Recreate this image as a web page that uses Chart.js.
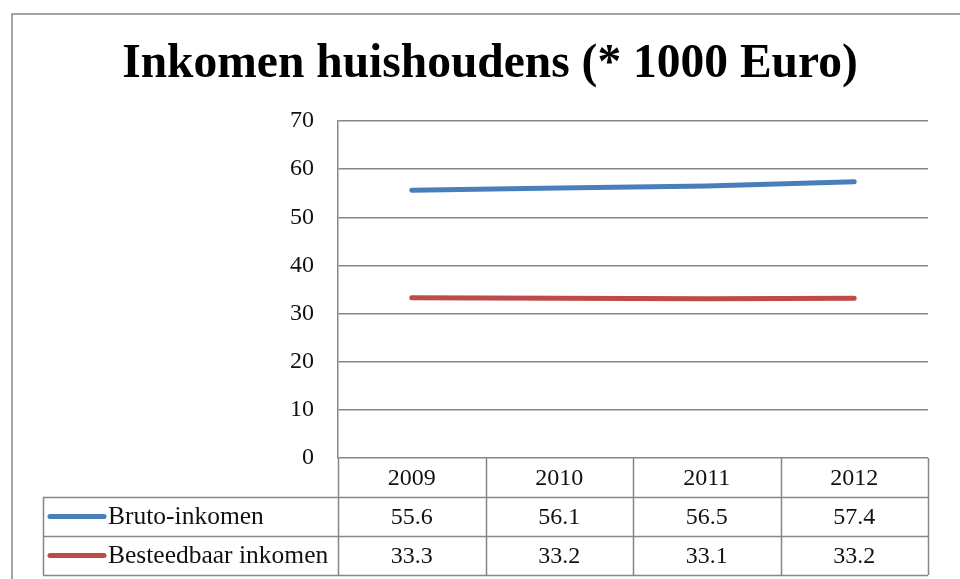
<!DOCTYPE html>
<html>
<head>
<meta charset="utf-8">
<script src="https://cdn.jsdelivr.net/npm/chart.js@4/dist/chart.umd.min.js"></script>
<style>
  html, body { margin: 0; padding: 0; background: #fff; overflow: hidden; }
  #wrap { position: relative; width: 960px; height: 579px; }
</style>
</head>
<body>
<div id="wrap"><canvas id="chart" width="960" height="579"></canvas></div>
<script>
// chart data
const years = ["2009", "2010", "2011", "2012"];
const seriesNames = ["Bruto-inkomen", "Besteedbaar inkomen"];
const brutoValues = [55.6, 56.1, 56.5, 57.4];
const besteedbaarValues = [33.3, 33.2, 33.1, 33.2];
const yTicks = [0, 10, 20, 30, 40, 50, 60, 70];

const blue = "#4a7ebb";
const red = "#be4b48";
const gridGrey = "#868686";
const serif = "'Liberation Serif', 'DejaVu Serif', serif";

// frame around the chart + data table under the plot
const tablePlugin = {
  id: "dataTable",
  afterDraw(chart) {
    const ctx = chart.ctx;
    const area = chart.chartArea;
    const x = chart.scales.x;
    const rowH = 39;
    const labelLeft = 43;
    const colW = (area.right - area.left) / years.length;

    ctx.save();
    // outer frame (cut off at right and bottom)
    ctx.strokeStyle = gridGrey;
    ctx.lineWidth = 1.5;
    ctx.beginPath();
    ctx.moveTo(12, 600);
    ctx.lineTo(12, 14);
    ctx.lineTo(980, 14);
    ctx.stroke();

    // table lines
    ctx.beginPath();
    for (let i = 0; i <= years.length; i++) {
      const cx = Math.round(area.left + i * colW) + 0.5;
      ctx.moveTo(cx, area.bottom);
      ctx.lineTo(cx, area.bottom + rowH * 3);
    }
    for (let r = 1; r <= 3; r++) {
      const cy = Math.round(area.bottom + r * rowH) + 0.5;
      ctx.moveTo(labelLeft, cy);
      ctx.lineTo(area.right, cy);
    }
    ctx.moveTo(labelLeft + 0.5, area.bottom + rowH);
    ctx.lineTo(labelLeft + 0.5, area.bottom + rowH * 3);
    ctx.stroke();

    // texts
    ctx.fillStyle = "#111";
    ctx.font = "24px " + serif;
    ctx.textAlign = "center";
    ctx.textBaseline = "middle";
    years.forEach((y, i) => {
      ctx.fillText(y, x.getPixelForValue(i), area.bottom + rowH * 0.5 + 1);
    });
    const rows = [brutoValues, besteedbaarValues];
    const colors = [blue, red];
    rows.forEach((vals, r) => {
      const cy = area.bottom + rowH * (r + 1.5) + 1;
      ctx.font = "24px " + serif;
      ctx.textAlign = "center";
      vals.forEach((v, i) => {
        ctx.fillText(v.toFixed(1), x.getPixelForValue(i), cy);
      });
      // legend key
      ctx.strokeStyle = colors[r];
      ctx.lineWidth = 5;
      ctx.lineCap = "round";
      ctx.beginPath();
      ctx.moveTo(labelLeft + 7, cy - 1);
      ctx.lineTo(labelLeft + 61, cy - 1);
      ctx.stroke();
      ctx.font = "25.5px " + serif;
      ctx.textAlign = "left";
      ctx.fillText(seriesNames[r], labelLeft + 65, cy);
    });
    ctx.restore();
  }
};

new Chart(document.getElementById("chart"), {
  type: "line",
  data: {
    labels: years,
    datasets: [
      {
        label: seriesNames[0],
        data: brutoValues,
        borderColor: blue,
        backgroundColor: blue,
        borderWidth: 5,
        borderCapStyle: "round",
        pointRadius: 0,
        tension: 0
      },
      {
        label: seriesNames[1],
        data: besteedbaarValues,
        borderColor: red,
        backgroundColor: red,
        borderWidth: 5,
        borderCapStyle: "round",
        pointRadius: 0,
        tension: 0
      }
    ]
  },
  options: {
    responsive: false,
    animation: false,
    devicePixelRatio: 1,
    layout: { padding: { left: 52, right: 32, top: 0, bottom: 121 } },
    plugins: {
      legend: { display: false },
      tooltip: { enabled: false },
      title: {
        display: true,
        text: "Inkomen huishoudens (* 1000 Euro)",
        color: "#000",
        font: { family: serif, size: 47.5, weight: "bold" },
        padding: { top: 36, bottom: 28 }
      }
    },
    scales: {
      x: {
        display: false,
        offset: true
      },
      y: {
        min: 0,
        max: 70,
        afterFit(scale) { scale.width = 286; },
        afterBuildTicks(scale) { scale.ticks = yTicks.map(v => ({ value: v })); },
        grid: { color: gridGrey, lineWidth: 1.5, drawTicks: false },
        border: { color: gridGrey, width: 1.5 },
        ticks: {
          color: "#111",
          padding: 24,
          font: { family: serif, size: 24 }
        }
      }
    }
  },
  plugins: [tablePlugin]
});
</script>
</body>
</html>
